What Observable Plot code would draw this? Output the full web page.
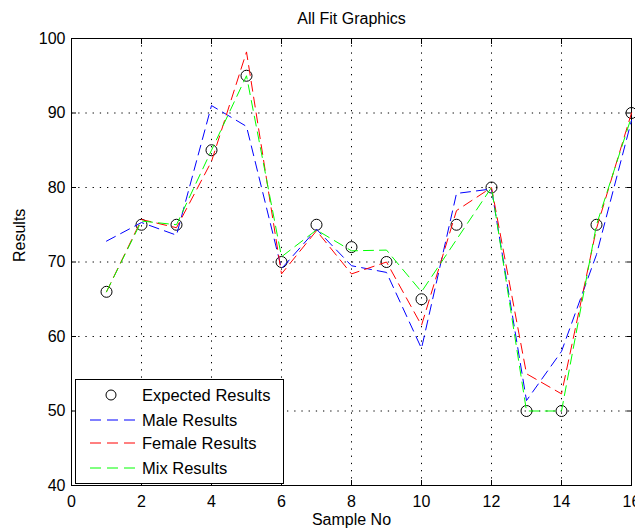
<!DOCTYPE html>
<html>
<head>
<meta charset="utf-8">
<script src="https://cdn.jsdelivr.net/npm/d3@7"></script>
<script src="https://cdn.jsdelivr.net/npm/@observablehq/plot@0.6"></script>
<style>
  html, body { margin: 0; padding: 0; background: #fff; overflow: hidden; }
  #wrap { position: relative; width: 635px; height: 530px; overflow: hidden; font-family: "Liberation Sans", Arial, sans-serif; }
  #legend { position: absolute; left: 75px; top: 379px; }
</style>
</head>
<body>
<div id="wrap"></div>
<script>
// ---- data ----
const sampleNo = [1, 2, 3, 4, 5, 6, 7, 8, 9, 10, 11, 12, 13, 14, 15, 16];
const expected = [66, 75, 75, 85, 95, 70, 75, 72, 70, 65, 75, 80, 50, 50, 75, 90];
const male     = [72.8, 75.3, 73.6, 91, 88.2, 69.1, 74.4, 69.5, 68.6, 58.4, 79.2, 79.8, 51.4, 58, 71, 89];
const female   = [66, 75.7, 74.6, 83.5, 98.2, 68.4, 74.2, 68.4, 70, 61.5, 76.9, 80, 55, 52.3, 74.5, 90];
const mix      = [66, 75.5, 75, 85, 95, 70.7, 74.3, 71.5, 71.6, 66, 73, 80, 50, 50, 75, 89.5];
const xTicks = [0, 2, 4, 6, 8, 10, 12, 14, 16];
const yTicks = [40, 50, 60, 70, 80, 90, 100];
const seriesNames = ["Expected Results", "Male Results", "Female Results", "Mix Results"];
const seriesColors = ["#000000", "#0000ff", "#ff0000", "#00ff00"];
const titleText = "All Fit Graphics";
const xLabel = "Sample No";
const yLabel = "Results";

const dash = "10,6";
const gridStyle = {stroke: "#000", strokeOpacity: 1, strokeWidth: 1, strokeDasharray: "1.3,5.9"};

const chart = Plot.plot({
  width: 635,
  height: 530,
  marginLeft: 71,
  marginRight: 4,
  marginTop: 38,
  marginBottom: 45,
  x: {domain: [0, 16]},
  y: {domain: [40, 100]},
  style: {fontFamily: "'Liberation Sans', Arial, sans-serif", fontSize: "16px", color: "#000", background: "#fff", overflow: "hidden"},
  marks: [
    Plot.gridX(xTicks, gridStyle),
    Plot.gridY(yTicks, gridStyle),
    Plot.axisX(xTicks, {anchor: "bottom", tickSize: -5, tickPadding: 15, label: null, fontSize: 16}),
    Plot.axisY(yTicks, {anchor: "left", tickSize: -5, tickPadding: 11, label: null, fontSize: 16}),
    Plot.axisX(xTicks, {anchor: "top", tickSize: -5, tickFormat: () => "", label: null}),
    Plot.axisY(yTicks, {anchor: "right", tickSize: -5, tickFormat: () => "", label: null}),
    Plot.frame({stroke: "#000", strokeWidth: 1}),
    Plot.dot(expected, {x: sampleNo, y: d => d, r: 5.5, stroke: seriesColors[0], fill: "none", strokeWidth: 1}),
    Plot.line(male, {x: sampleNo, y: d => d, stroke: seriesColors[1], strokeWidth: 1, strokeDasharray: dash}),
    Plot.line(female, {x: sampleNo, y: d => d, stroke: seriesColors[2], strokeWidth: 1, strokeDasharray: dash}),
    Plot.line(mix, {x: sampleNo, y: d => d, stroke: seriesColors[3], strokeWidth: 1, strokeDasharray: dash}),
    Plot.text([titleText], {text: d => d, frameAnchor: "top", dy: -20, fontSize: 16, lineAnchor: "middle"}),
    Plot.text([xLabel], {text: d => d, frameAnchor: "bottom", dy: 34, fontSize: 16, lineAnchor: "middle"}),
    Plot.text([yLabel], {text: d => d, frameAnchor: "left", dx: -52, rotate: -90, fontSize: 16, lineAnchor: "middle"})
  ]
});
const wrap = document.getElementById("wrap");
wrap.appendChild(chart);

// ---- legend (box inside the axes, lower left) ----
const ns = "http://www.w3.org/2000/svg";
const lw = 208, lh = 104;
const leg = document.createElementNS(ns, "svg");
leg.setAttribute("id", "legend");
leg.setAttribute("width", lw + 1);
leg.setAttribute("height", lh + 1);
const box = document.createElementNS(ns, "rect");
box.setAttribute("x", 0.5); box.setAttribute("y", 0.5);
box.setAttribute("width", lw); box.setAttribute("height", lh);
box.setAttribute("fill", "#fff"); box.setAttribute("stroke", "#000");
leg.appendChild(box);
const rowY = [16, 41, 64, 89];
seriesNames.forEach((name, i) => {
  const cy = rowY[i];
  if (i === 0) {
    const c = document.createElementNS(ns, "circle");
    c.setAttribute("cx", 36); c.setAttribute("cy", cy); c.setAttribute("r", 5);
    c.setAttribute("fill", "none"); c.setAttribute("stroke", seriesColors[i]);
    leg.appendChild(c);
  } else {
    const l = document.createElementNS(ns, "line");
    l.setAttribute("x1", 15); l.setAttribute("x2", 62);
    l.setAttribute("y1", cy); l.setAttribute("y2", cy);
    l.setAttribute("stroke", seriesColors[i]); l.setAttribute("stroke-dasharray", "11,6");
    leg.appendChild(l);
  }
  const t = document.createElementNS(ns, "text");
  t.setAttribute("x", 67); t.setAttribute("y", cy);
  t.setAttribute("dy", "0.35em");
  t.setAttribute("font-size", "16.5");
  t.setAttribute("font-family", "'Liberation Sans', Arial, sans-serif");
  t.textContent = name;
  leg.appendChild(t);
});
wrap.appendChild(leg);
</script>
</body>
</html>
